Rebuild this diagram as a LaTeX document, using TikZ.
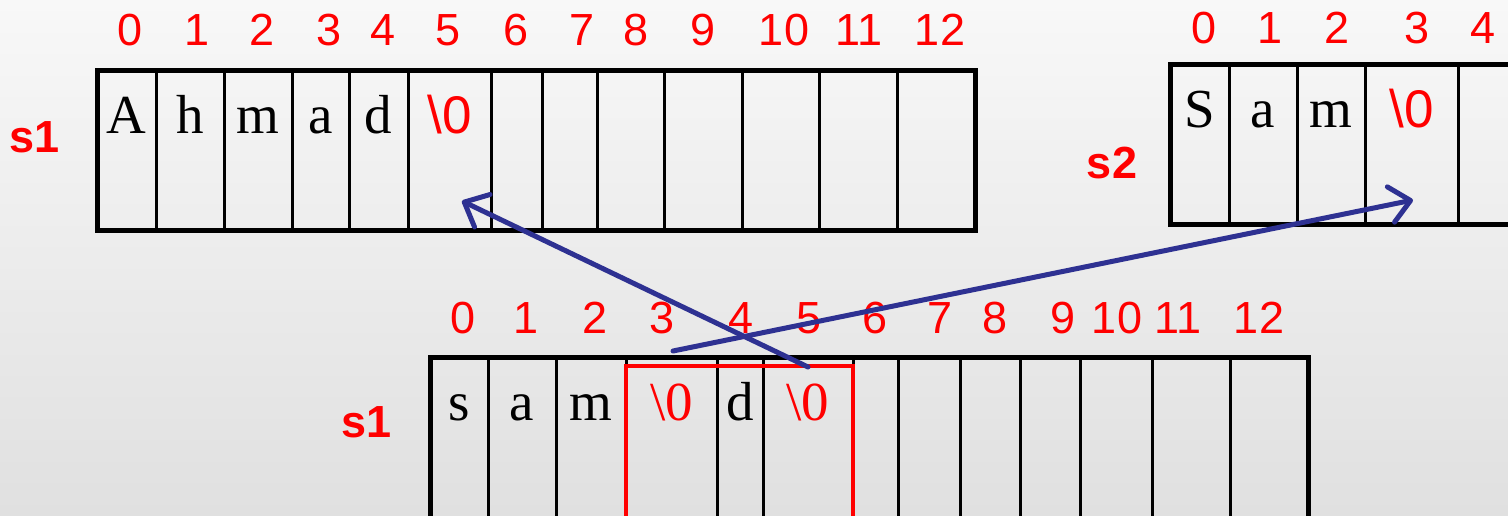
\documentclass[tikz,border=0pt]{standalone}
\usepackage{fontspec}
\setmainfont{Liberation Serif}
\newfontfamily\arialf{Liberation Sans}
\usetikzlibrary{arrows.meta}
\definecolor{idxred}{RGB}{255,0,0}
\definecolor{arrowblue}{RGB}{46,49,146}
\definecolor{bgtop}{RGB}{248,248,248}
\definecolor{bgbot}{RGB}{224,224,224}
\begin{document}
\begin{tikzpicture}[x=1pt,y=-1pt,
  idx/.style={text=idxred, font=\arialf\fontsize{45}{45}\selectfont, anchor=base, inner sep=0pt},
  ch/.style={text=black, font=\fontsize{55}{55}\selectfont, anchor=base, inner sep=0pt},
  nulS/.style={text=idxred, font=\arialf\fontsize{53}{53}\selectfont, anchor=base, inner sep=0pt},
  nulR/.style={text=idxred, font=\fontsize{55}{55}\selectfont, anchor=base, inner sep=0pt},
  lbl/.style={text=idxred, font=\arialf\bfseries\fontsize{45}{45}\selectfont, anchor=base, inner sep=0pt},
  outerbox/.style={draw=black, line width=5pt},
  divider/.style={draw=black, line width=3pt},
  hilite/.style={draw=idxred, line width=4.5pt},
  ptr/.style={draw=arrowblue, line width=5pt, line cap=round, -{Straight Barb[length=20pt,width=36pt,round]}},
]
\useasboundingbox (0,0) rectangle (1508,515);
\clip (0,0) rectangle (1508,515);
\shade[top color=bgtop, bottom color=bgbot] (0,0) rectangle (1508,515);

% ---------- top s1 ----------
\foreach \x in {156,224,292,349,408,491,542,597,664,742,819,897}
  \draw[divider] (\x,70) -- (\x,230);
\draw[outerbox] (97,70) rectangle (975,230);
\foreach \x [count=\i from 0] in {130,197,262,329,383,448,516,582,636,703,784,859,940}
  \node[idx] (ta\i) at (\x,45) {\i};
\foreach \x/\c [count=\i] in {126.5/A,190/h,258/m,320.5/a,378.5/d}
  \node[ch] (tc\i) at (\x,133) {\c};
\node[nulS] (tnul) at (449.5,133) {\textbackslash 0};
\node[lbl] (ls1) at (35,152) {s1};

% ---------- s2 ----------
\foreach \x in {1229,1297,1365,1458}
  \draw[divider] (\x,64) -- (\x,224);
\draw[outerbox] (1170,64) rectangle (1600,224);
\foreach \x [count=\i from 0] in {1204,1270,1337,1417,1483}
  \node[idx] (sa\i) at (\x,43) {\i};
\foreach \x/\c [count=\i] in {1199.5/S,1263/a,1331/m}
  \node[ch] (sc\i) at (\x,127) {\c};
\node[nulS] (snul) at (1411.5,127) {\textbackslash 0};
\node[lbl] (ls2) at (1112,178) {s2};

% ---------- bottom s1 ----------
\foreach \x in {488,556,626,717,763,853,898,960,1020,1080,1152,1230}
  \draw[divider] (\x,357) -- (\x,540);
\draw[outerbox] (430,357) rectangle (1308,540);
\draw[hilite] (626,366) rectangle (853,540);
\foreach \x [count=\i from 0] in {463,526,595,662,741,809,875,940,995,1063,1117,1178,1259}
  \node[idx] (ba\i) at (\x,333) {\i};
\node[ch] (bc1) at (459,420) {s};
\node[ch] (bc2) at (522,420) {a};
\node[ch] (bc3) at (591,420) {m};
\node[nulR] (bnul1) at (671.5,420) {\textbackslash 0};
\node[ch] (bc5) at (740,420) {d};
\node[nulR] (bnul2) at (808,420) {\textbackslash 0};
\node[lbl] (ls3) at (367,437) {s1};

% ---------- pointers ----------
\coordinate (p1s) at (808,367);
\coordinate (p1e) at (462,201);
\coordinate (p2s) at (673,351);
\coordinate (p2e) at (1413,200);
\draw[ptr] (p1s) -- (p1e);
\draw[ptr] (p2s) -- (p2e);
\end{tikzpicture}
\end{document}
